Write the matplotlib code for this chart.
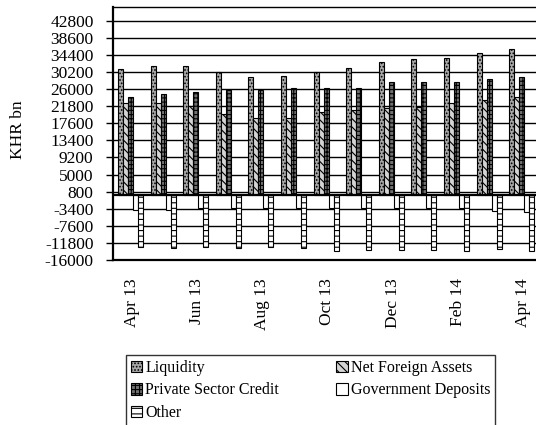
import numpy as np
import matplotlib
matplotlib.use("Agg")
import matplotlib.pyplot as plt
from matplotlib.patches import Patch

plt.rcParams['font.family'] = ['Liberation Serif', 'DejaVu Serif']
plt.rcParams['hatch.linewidth'] = 0.8

# data (KHR bn)
months = ['Apr 13', 'May 13', 'Jun 13', 'Jul 13', 'Aug 13', 'Sep 13', 'Oct 13',
          'Nov 13', 'Dec 13', 'Jan 14', 'Feb 14', 'Mar 14', 'Apr 14']
liquidity = [30900, 31700, 31700, 30100, 28900, 29200, 30100,
             31300, 32600, 33300, 33700, 35000, 35800]
net_foreign_assets = [22500, 22500, 21800, 20000, 18800, 18800, 20300,
                      20800, 21300, 21700, 22500, 23300, 24000]
private_credit = [24000, 24800, 25200, 25800, 25800, 26400, 26400,
                  26400, 27700, 27700, 27700, 28500, 28900]
gov_deposits = [-3600, -3600, -3200, -3200, -3300, -3300, -3300,
                -3300, -3300, -3300, -3300, -4000, -4200]
other = [-12700, -13100, -12700, -13100, -12900, -13100, -13700,
         -13500, -13500, -13500, -13700, -13300, -13900]

yticks = [-16000, -11800, -7600, -3400, 800, 5000, 9200, 13400, 17600,
          21800, 26000, 30200, 34400, 38600, 42800]
shown_labels = ['Apr 13', 'Jun 13', 'Aug 13', 'Oct 13', 'Dec 13', 'Feb 14', 'Apr 14']

series = [
    ('Liquidity', liquidity, '#a8a8a8', '.....'),
    ('Net Foreign Assets', net_foreign_assets, '#d4d4d4', '\\\\\\\\'),
    ('Private Sector Credit', private_credit, '#707070', '++++'),
    ('Government Deposits', gov_deposits, 'white', ''),
    ('Other', other, 'white', '---'),
]

fig = plt.figure(figsize=(5.36, 4.25), dpi=100)
ax = fig.add_axes([113/536, 165/425, 423/536, 253/425])

x = np.arange(len(months))
w = 0.153
handles = []
for i, (name, vals, fc, hatch) in enumerate(series):
    off = (i - 2) * w - 0.04
    ax.bar(x + off, vals, width=w, color=fc, edgecolor='black', hatch=hatch,
           linewidth=0.8, zorder=3)
    handles.append(Patch(facecolor=fc, edgecolor='black', hatch=hatch, linewidth=0.8, label=name))

ax.set_xlim(-0.58, 12.4)
ax.set_ylim(-16000, 46200)
ax.set_yticks(yticks)
ax.set_yticklabels([str(t) for t in yticks], fontsize=12.5)
ax.tick_params(axis='y', direction='out', length=5, width=1, pad=9)
ax.yaxis.grid(True, color='black', linewidth=1.0, zorder=0)
ax.axhline(0, color='black', linewidth=1.6, zorder=4)

ax.set_xticks([months.index(m) for m in shown_labels])
ax.set_xticklabels(shown_labels, rotation=90, fontsize=12.5)
ax.tick_params(axis='x', length=0, pad=13)

ax.spines['left'].set_linewidth(1.6)
ax.spines['bottom'].set_linewidth(1.6)
ax.spines['top'].set_linewidth(1.0)
ax.spines['right'].set_visible(False)

fig.text(18/536, 1 - 130/425, 'KHR bn', rotation=90, ha='center', va='center', fontsize=12.5)

# legend: column-wise fill -> Liq, PSC, Other | NFA, Gov
order = [0, 2, 4, 1, 3]
leg = fig.legend([handles[i] for i in order], [series[i][0] for i in order],
                 ncol=2, loc='upper left', bbox_to_anchor=(126/536, 1 - 355/425),
                 borderaxespad=0, frameon=True, fancybox=False, edgecolor='black',
                 fontsize=11.5, handlelength=0.7, handleheight=0.7, handletextpad=0.2,
                 columnspacing=3.6, borderpad=0.3, labelspacing=0.42)
leg.get_frame().set_linewidth(1.0)

fig.savefig('out.png', dpi=100)
